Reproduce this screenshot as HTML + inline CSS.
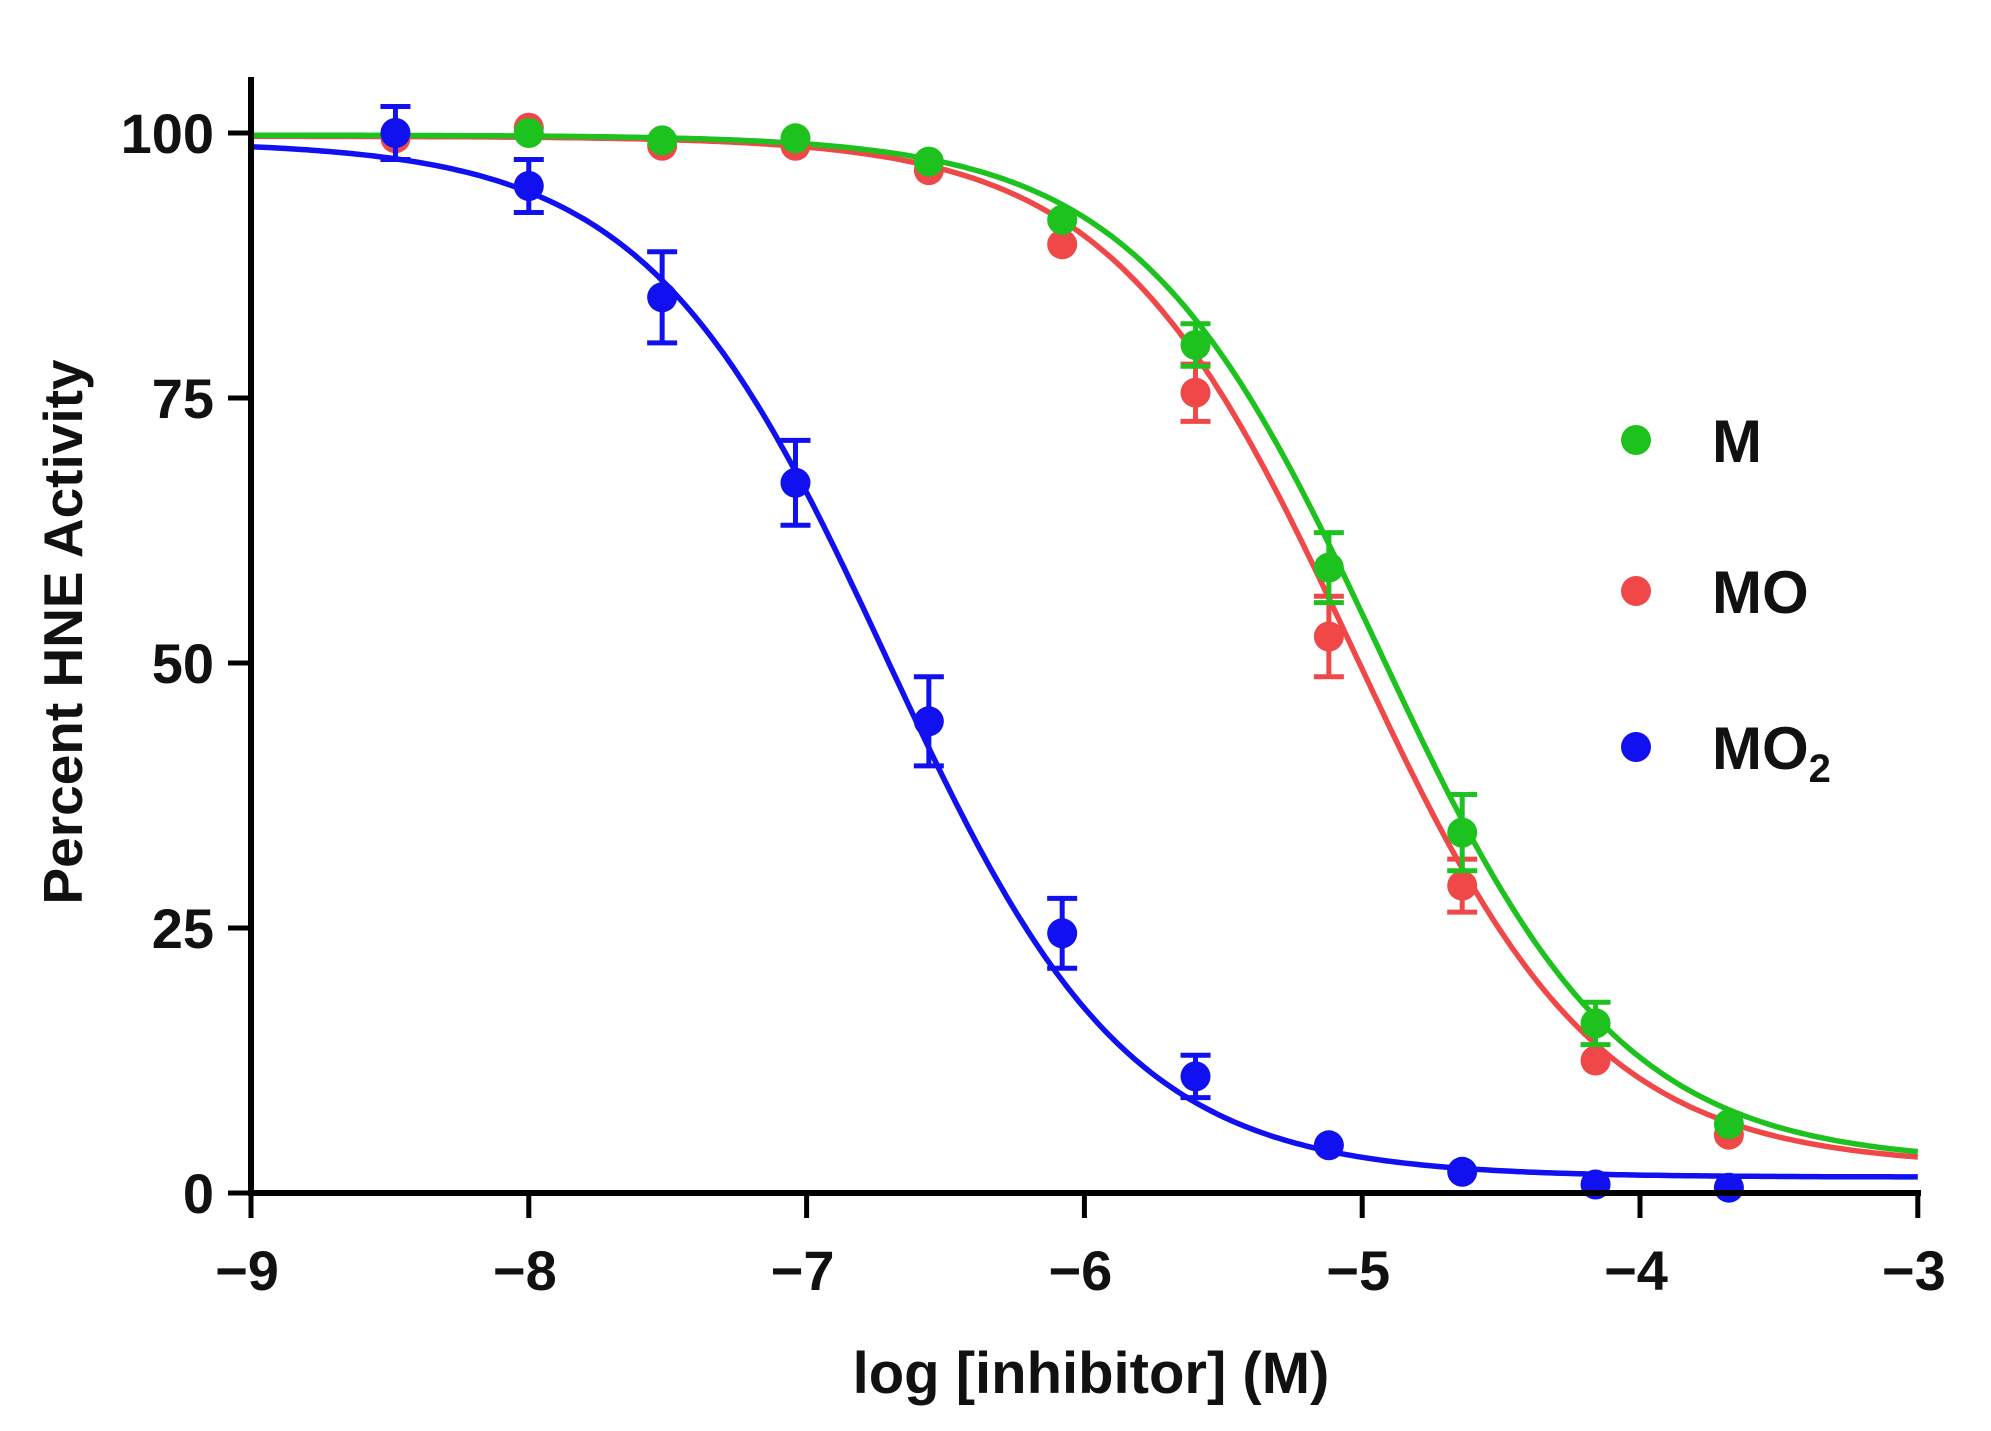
<!DOCTYPE html>
<html><head><meta charset="utf-8"><style>
html,body{margin:0;padding:0;background:#fff;}
svg{display:block;}
text{font-family:"Liberation Sans",sans-serif;font-weight:bold;fill:#111;}
</style></head><body>
<svg id="s" width="1991" height="1431" viewBox="0 0 1991 1431" xmlns="http://www.w3.org/2000/svg">
<g id="curves"></g>
<g id="pts"></g>
<g stroke="#000" stroke-width="6" fill="none">
<line x1="251" y1="77" x2="251" y2="1196"/>
<line x1="248" y1="1193" x2="1921" y2="1193"/>
</g>
<g id="ticks" stroke="#000" stroke-width="5"></g>
<g id="labels" font-size="56" text-anchor="middle"></g>
<text x="1091" y="1393" font-size="58" text-anchor="middle">log [inhibitor] (M)</text>
<text transform="translate(82,632) rotate(-90)" font-size="55" text-anchor="middle">Percent HNE Activity</text>
<circle cx="1636" cy="440" r="15" fill="#1ec21e"/>
<circle cx="1636" cy="591" r="15" fill="#f04848"/>
<circle cx="1636" cy="747" r="15" fill="#1010f0"/>
<text x="1712" y="462" font-size="60">M</text>
<text x="1712" y="613" font-size="60">MO</text>
<text x="1712" y="769" font-size="60">MO<tspan font-size="40" dy="13">2</tspan></text>
</svg>
<script>
var NS="http://www.w3.org/2000/svg";
function X(v){return 251+(v+9)*277.8;}
function Y(v){return 1193-v*10.6;}
function el(t,a,p){var e=document.createElementNS(NS,t);for(var k in a)e.setAttribute(k,a[k]);document.getElementById(p).appendChild(e);return e;}
for(var i=-9;i<=-3;i++){el("line",{x1:X(i),y1:1193,x2:X(i),y2:1218},"ticks");
 var t=el("text",{x:X(i)-4,y:1290},"labels");t.textContent="\u2212"+(-i);}
[0,25,50,75,100].forEach(function(v){el("line",{x1:228,y1:Y(v),x2:251,y2:Y(v)},"ticks");
 var t=el("text",{x:214,y:Y(v)+20,"text-anchor":"end"},"labels");t.textContent=v;});
var S=[
 {c:"#1010f0",top:99.2,bot:1.5,ic:-6.71,h:1.0,
  y:[100,95,84.5,67,44.5,24.5,11,4.5,2,0.8,0.5],e:[2.5,2.5,4.3,4,4.2,3.3,2,0,0,0,0]},
 {c:"#f04848",top:99.7,bot:2.5,ic:-5.03,h:1.0,
  y:[99.5,100.5,98.8,98.8,96.5,89.5,75.5,52.5,29,12.5,5.5],e:[0,0,0,0,0,0,2.7,3.8,2.5,0,0]},
 {c:"#1ec21e",top:99.8,bot:2.8,ic:-4.94,h:1.0,
  y:[100,100,99.3,99.5,97.3,91.8,80,59,34,16,6.5],e:[0,0,0,0,0,0,2,3.3,3.6,2,0]}
];
var xs=[-8.48,-8,-7.52,-7.04,-6.56,-6.08,-5.6,-5.12,-4.64,-4.16,-3.68];
S.forEach(function(s){
 var d="";for(var x=-9;x<=-2.999;x+=0.02){var v=s.bot+(s.top-s.bot)/(1+Math.pow(10,(x-s.ic)*s.h));
 d+=(d?"L":"M")+X(x).toFixed(1)+","+Y(v).toFixed(1);}
 el("path",{d:d,stroke:s.c,"stroke-width":5.5,fill:"none"},"curves");
});
[1,2,0].forEach(function(k){var s=S[k];
 xs.forEach(function(x,i){var cx=X(x),cy=Y(s.y[i]);
  if(s.e[i]>0){var a=Y(s.y[i]+s.e[i]),b=Y(s.y[i]-s.e[i]);
   el("path",{d:"M"+cx+","+a+"L"+cx+","+b+"M"+(cx-15)+","+a+"L"+(cx+15)+","+a+"M"+(cx-15)+","+b+"L"+(cx+15)+","+b,stroke:s.c,"stroke-width":5,fill:"none"},"pts");}
  el("circle",{cx:cx,cy:cy,r:15,fill:s.c},"pts");});
});
</script>
</body></html>
